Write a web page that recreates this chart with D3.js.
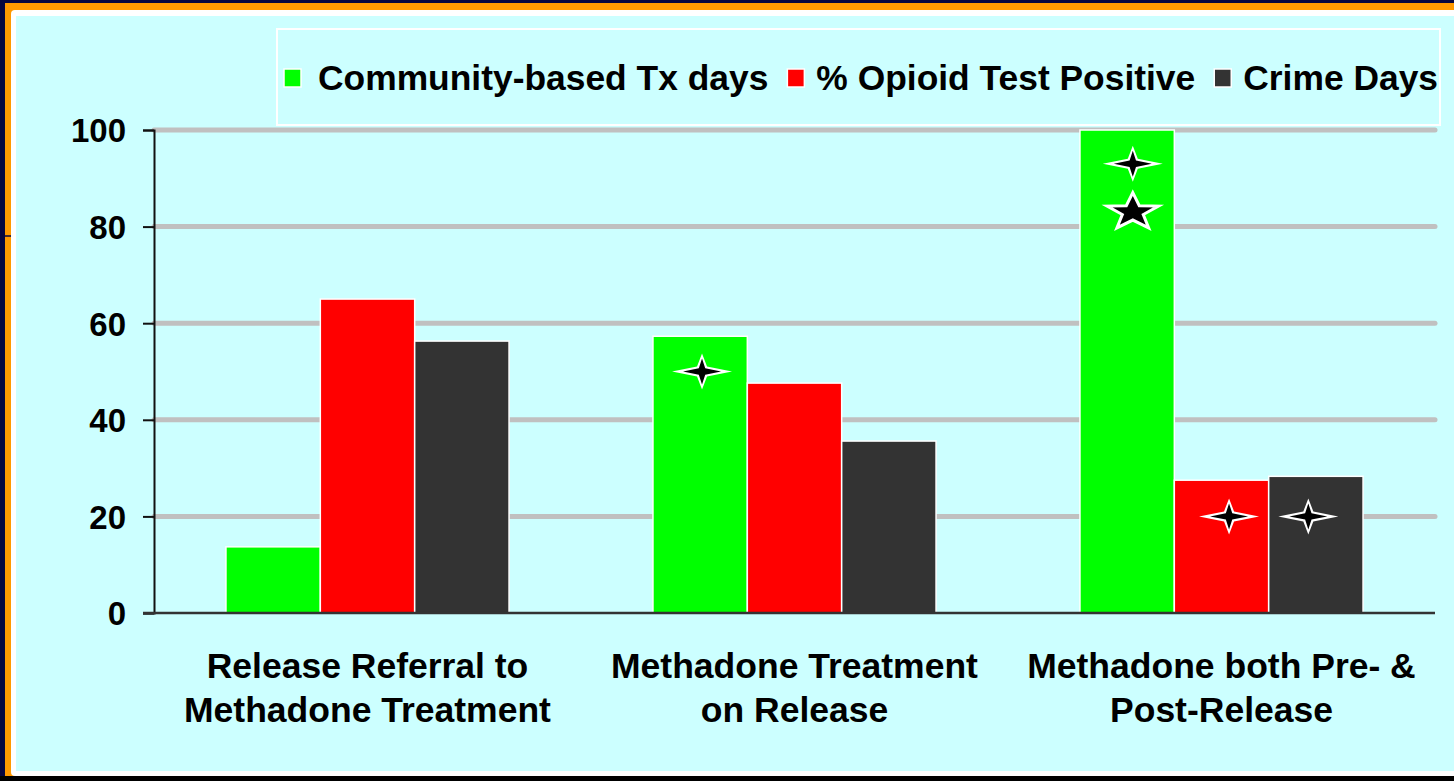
<!DOCTYPE html>
<html>
<head>
<meta charset="utf-8">
<script src="https://cdn.jsdelivr.net/npm/d3@7"></script>
<style>
  html, body { margin: 0; padding: 0; background: #000; }
  svg { display: block; }
  text { font-family: "Liberation Sans", Arial, sans-serif; font-weight: bold; fill: #000; }
</style>
</head>
<body>
<svg id="chart" width="1454" height="781"></svg>
<script>
// Outcome groups (x axis) and the three measures shown for each
const groups = [
  ["Release Referral to", "Methadone Treatment"],
  ["Methadone Treatment", "on Release"],
  ["Methadone both Pre- &", "Post-Release"]
];
const seriesNames = ["Community-based Tx days", "% Opioid Test Positive", "Crime Days"];
const seriesColors = ["#00ff00", "#ff0000", "#333333"];

// Values per measure, one per group
const txDays      = [13.7, 57.3, 100];
const opioidPos   = [65.0, 47.6, 27.5];
const crimeDays   = [56.3, 35.6, 28.3];

const yTicks = [0, 20, 40, 60, 80, 100];

// Significance markers: group index, measure index, value where drawn, shape
const markerGroup  = [1, 2, 2, 2, 2];
const markerSeries = [0, 0, 0, 1, 2];
const markerValue  = [50, 93, 83, 20, 20];
const markerShape  = ["sparkle", "sparkle", "star", "sparkle", "sparkle"];

const svg = d3.select("#chart");
const W = 1454, H = 781;

// ---- slide frame ----
svg.append("rect").attr("x", 0).attr("y", 0).attr("width", W).attr("height", H).attr("fill", "#000");
svg.append("rect").attr("x", 0).attr("y", 0).attr("width", W).attr("height", 776).attr("fill", "#06063f");
svg.append("rect").attr("x", 5).attr("y", 3).attr("width", W - 5).attr("height", 773).attr("fill", "#ff9900");
svg.append("line").attr("x1", 5).attr("x2", 11).attr("y1", 236).attr("y2", 236)
  .attr("stroke", "#06063f").attr("stroke-width", 1.5);
svg.append("rect").attr("x", 11).attr("y", 10).attr("width", W).attr("height", 766)
  .attr("rx", 4).attr("fill", "#ffffff");
svg.append("rect").attr("x", 16).attr("y", 16).attr("width", W).attr("height", 755).attr("fill", "#ccffff");

// ---- scales ----
const plotLeft = 154, plotRight = 1435, plotTop = 130, plotBottom = 613;
const x0 = d3.scaleBand().domain(d3.range(groups.length))
  .range([plotLeft, plotRight]).paddingInner(0.337).paddingOuter(0.1685);
const x1 = d3.scaleBand().domain(d3.range(seriesNames.length)).range([0, x0.bandwidth()]);
const y = d3.scaleLinear().domain([0, 100]).range([plotBottom, plotTop]);

const values = [txDays, opioidPos, crimeDays];

// ---- gridlines ----
svg.append("g").selectAll("line").data(yTicks.filter(t => t > 0)).join("line")
  .attr("x1", plotLeft).attr("x2", plotRight)
  .attr("y1", d => y(d)).attr("y2", d => y(d))
  .attr("stroke", "#c0c0c0").attr("stroke-width", 5).attr("stroke-linecap", "round");

// ---- bars ----
const gBars = svg.append("g");
groups.forEach((g, gi) => {
  gBars.selectAll(null).data(seriesNames.map((s, si) => ({ gi, si, v: values[si][gi] }))).join("rect")
    .attr("x", d => x0(d.gi) + x1(d.si))
    .attr("width", x1.bandwidth())
    .attr("y", d => y(d.v))
    .attr("height", d => y(0) - y(d.v))
    .attr("fill", d => seriesColors[d.si])
    .attr("stroke", "#ffffff").attr("stroke-width", 1.5);
});

// ---- axes ----
const yAxis = d3.axisLeft(y).tickValues(yTicks).tickSize(11).tickPadding(17).tickFormat(d3.format("d"));
const ya = svg.append("g").attr("transform", `translate(${plotLeft},0)`).call(yAxis);
ya.select(".domain").attr("stroke", "#111").attr("stroke-width", 2);
ya.selectAll(".tick line").attr("stroke", "#111").attr("stroke-width", 2);
ya.selectAll(".tick text").style("font-size", "33px").style("font-family", "'Liberation Sans', Arial, sans-serif")
  .style("font-weight", "bold").attr("fill", "#000").attr("dy", "0.36em");

svg.append("line").attr("x1", plotLeft - 11).attr("x2", plotRight)
  .attr("y1", y(0)).attr("y2", y(0)).attr("stroke", "#333").attr("stroke-width", 2.5);

// ---- category labels ----
const labels = svg.append("g");
groups.forEach((lines, gi) => {
  const cx = x0(gi) + x0.bandwidth() / 2;
  lines.forEach((ln, li) => {
    labels.append("text").attr("x", cx).attr("y", 678 + li * 44)
      .attr("text-anchor", "middle").style("font-size", "35.5px").text(ln);
  });
});

// ---- significance markers ----
function sparklePath(hw, hh, r) {
  return `M${-hw},0 L${-r},${-r} L0,${-hh} L${r},${-r} L${hw},0 L${r},${r} L0,${hh} L${-r},${r} Z`;
}
function starPath(R, rIn, sy) {
  const pts = [];
  for (let i = 0; i < 10; i++) {
    const a = -Math.PI / 2 + i * Math.PI / 5;
    const rr = i % 2 === 0 ? R : rIn;
    pts.push([rr * Math.cos(a), rr * Math.sin(a) * sy]);
  }
  return "M" + pts.map(p => p.join(",")).join("L") + "Z";
}
const markerNudge = [0.02, 0.06, 0.06, 0.08, -0.08];
const gMarks = svg.append("g");
markerValue.forEach((v, i) => {
  const cx = x0(markerGroup[i]) + x1(markerSeries[i]) + x1.bandwidth() * (0.5 + markerNudge[i]);
  const cy = y(v);
  const m = gMarks.append("g").attr("transform", `translate(${cx},${cy})`);
  if (markerShape[i] === "sparkle") {
    m.append("path").attr("d", sparklePath(30, 18, 5)).attr("fill", "#ffffff");
    m.append("path").attr("d", sparklePath(19, 13, 3.2)).attr("fill", "#000000");
  } else {
    m.append("path").attr("d", starPath(27, 11, 0.72)).attr("fill", "#000")
      .attr("stroke", "#fff").attr("stroke-width", 3).attr("stroke-linejoin", "miter");
  }
});

// ---- legend ----
const legend = svg.append("g");
legend.append("rect").attr("x", 277).attr("y", 29).attr("width", 1163).attr("height", 96)
  .attr("fill", "none").attr("stroke", "#ffffff").attr("stroke-width", 2);
let lx = 284;
seriesNames.forEach((name, i) => {
  legend.append("rect").attr("x", lx).attr("y", 69).attr("width", 17).attr("height", 18)
    .attr("fill", seriesColors[i]).attr("stroke", "#ffffff").attr("stroke-width", 1.5);
  const t = legend.append("text").attr("x", lx + 17 + (i === 0 ? 17 : 12)).attr("y", 90)
    .style("font-size", "35.4px").text(name);
  lx = lx + 17 + (i === 0 ? 17 : 12) + t.node().getComputedTextLength() + 19;
});
</script>
</body>
</html>
